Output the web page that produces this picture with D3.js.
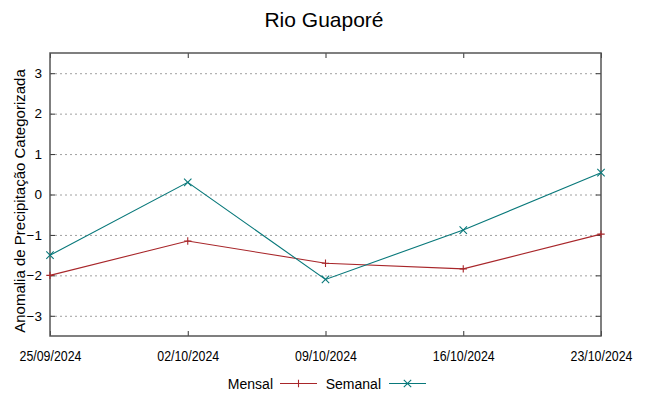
<!DOCTYPE html>
<html><head><meta charset="utf-8">
<script src="https://cdn.jsdelivr.net/npm/d3@7"></script>
<style>body{margin:0;background:#fff}svg{display:block}</style>
</head><body>
<svg id="c" width="649" height="396"></svg>
<script>
const title = "Rio Guaporé";
const yLabel = "Anomalia de Precipitação Categorizada";
const dates = ["2024-09-25","2024-10-02","2024-10-09","2024-10-16","2024-10-23"];
const mensal = [-2.0, -1.15, -1.70, -1.84, -0.98];
const semanal = [-1.50, 0.30, -2.10, -0.88, 0.54];
const yTicks = [-3,-2,-1,0,1,2,3];
const seriesNames = ["Mensal","Semanal"];

const W=649,H=396, L=50,R=601,T=53,B=336;
const font = "'Liberation Sans', Arial, sans-serif";
const parse = d3.utcParse("%Y-%m-%d");
const fmt = d3.utcFormat("%d/%m/%Y");
const dd = dates.map(parse);
const x = d3.scaleUtc().domain([dd[0], dd[dd.length-1]]).range([L,R]);
const y = d3.scaleLinear().domain([-3.5,3.5]).range([B,T]);
const svg = d3.select("#c");

// grid
svg.append("g").selectAll("line").data(yTicks).join("line")
  .attr("x1",L).attr("x2",R).attr("y1",d=>y(d)+0.5).attr("y2",d=>y(d)+0.5)
  .attr("stroke","#a0a0a0").attr("stroke-width",1).attr("stroke-dasharray","2,3");

// axes with inward ticks
const axL = d3.axisLeft(y).tickValues(yTicks).tickSize(-5).tickPadding(8).tickFormat(d3.format("d"));
const axR = d3.axisRight(y).tickValues(yTicks).tickSize(-5).tickFormat("");
const axB = d3.axisBottom(x).tickValues(dd).tickSize(-5).tickPadding(15.5).tickFormat(fmt);
const axT = d3.axisTop(x).tickValues(dd).tickSize(-5).tickFormat("");
function style(g, fs){
  g.select(".domain").remove();
  g.selectAll(".tick line").attr("stroke","#333");
  g.selectAll(".tick text").attr("fill","#000").style("font-family",font).style("font-size",fs);
}
svg.append("g").attr("transform",`translate(${L},0)`).call(axL).call(g=>style(g,"13.5px"));
svg.append("g").attr("transform",`translate(${R},0)`).call(axR).call(g=>style(g,"14px"));
svg.append("g").attr("transform",`translate(0,${B})`).call(axB).call(g=>style(g,"14px"))
  .call(g=>g.selectAll(".tick text").attr("transform","scale(0.885,1)"));
svg.append("g").attr("transform",`translate(0,${T})`).call(axT).call(g=>style(g,"11px"));

// frame
svg.append("rect").attr("x",L).attr("y",T).attr("width",R-L).attr("height",B-T)
  .attr("fill","none").attr("stroke","#555").attr("stroke-width",1.5);

const colors = ["#a8262a","#08787a"];
const data = [mensal, semanal];
const line = d3.line().x((d,i)=>x(dd[i])).y(d=>y(d));
data.forEach((s,k)=>{
  svg.append("path").datum(s).attr("d",line).attr("fill","none")
    .attr("stroke",colors[k]).attr("stroke-width",1.1);
  const g = svg.append("g");
  s.forEach((v,i)=>marker(g, x(dd[i]), y(v), k));
});
function marker(g,cx,cy,k){
  const r = 3.7;
  if(k===0){
    g.append("path").attr("d",`M${cx-r},${cy}H${cx+r}M${cx},${cy-r}V${cy+r}`)
      .attr("stroke",colors[k]).attr("stroke-width",1.1);
  } else {
    g.append("path").attr("d",`M${cx-r},${cy-r}L${cx+r},${cy+r}M${cx-r},${cy+r}L${cx+r},${cy-r}`)
      .attr("stroke",colors[k]).attr("stroke-width",1.1);
  }
}

// title
svg.append("text").attr("x",324).attr("y",27).attr("text-anchor","middle")
  .style("font-family",font).style("font-size","21px").text(title);
// y label
svg.append("text").attr("transform",`translate(24.5,201) rotate(-90)`).attr("text-anchor","middle")
  .style("font-family",font).style("font-size","15px").text(yLabel);

// legend
const legTextRight = [273, 381];
const legLine = [[280,317],[389,426]];
seriesNames.forEach((n,k)=>{
  svg.append("text").attr("x",legTextRight[k]).attr("y",388.5).attr("text-anchor","end")
    .style("font-family",font).style("font-size","14px").text(n);
  svg.append("line").attr("x1",legLine[k][0]).attr("x2",legLine[k][1]).attr("y1",383.5).attr("y2",383.5)
    .attr("stroke",colors[k]).attr("stroke-width",1.1);
  marker(svg,(legLine[k][0]+legLine[k][1])/2,383.5,k);
});
</script>
</body></html>
